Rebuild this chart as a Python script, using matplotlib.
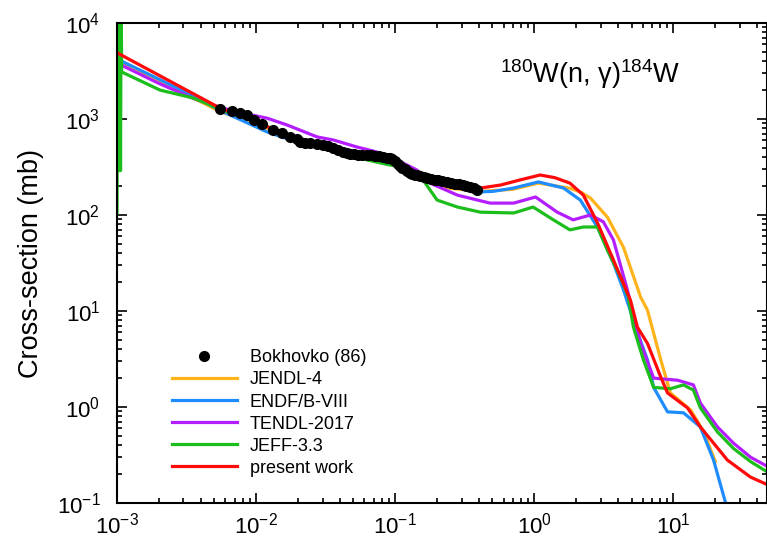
import numpy as np
import matplotlib
matplotlib.use('Agg')
import matplotlib.pyplot as plt
from matplotlib.ticker import LogLocator, NullFormatter, FixedFormatter

plt.rcParams['font.family'] = ['Liberation Sans', 'DejaVu Sans']
plt.rcParams['mathtext.fontset'] = 'custom'
plt.rcParams['mathtext.rm'] = 'Liberation Sans'
plt.rcParams['mathtext.it'] = 'Liberation Sans:italic'
plt.rcParams['mathtext.bf'] = 'Liberation Sans:bold'

# experimental data, Bokhovko (86)
exp_e = [0.00551, 0.00672, 0.00767, 0.00861, 0.00968, 0.0110, 0.0132, 0.0154, 0.0176, 0.0197,
         0.0208, 0.0225, 0.0245, 0.0275, 0.0303, 0.0330, 0.0358, 0.0389, 0.0423, 0.0452,
         0.0474, 0.0507, 0.0542, 0.0579, 0.0629, 0.0671, 0.0718, 0.0767, 0.0820, 0.0875,
         0.0921, 0.0951, 0.100, 0.105, 0.109, 0.112, 0.118, 0.122, 0.128, 0.133,
         0.139, 0.144, 0.151, 0.162, 0.170, 0.182, 0.194, 0.204, 0.218, 0.237,
         0.253, 0.270, 0.289, 0.308, 0.324, 0.347, 0.370, 0.389]
exp_xs = [1271, 1211, 1155, 1101, 977, 887, 768, 714, 649, 619,
          575, 569, 562, 549, 536, 518, 499, 476, 453, 442,
          432, 427, 422, 422, 422, 417, 412, 407, 402, 397,
          393, 383, 365, 340, 324, 312, 301, 287, 274, 267,
          261, 258, 255, 249, 243, 237, 232, 229, 226, 221,
          215, 210, 208, 205, 201, 196, 189, 182]

# JENDL-4
jendl_e = [0.001, 0.002, 0.0055, 0.01, 0.02, 0.05, 0.1, 0.15, 0.237, 0.41,
           0.7, 1.07, 1.8, 2.14, 2.53, 3.35, 4.37, 5.8, 6.5, 8.1,
           9.5, 13.3, 16.4, 20.0]
jendl_xs = [4000, 2500, 1200, 900, 570, 420, 370, 250, 191, 176,
            185, 215, 190, 174, 150, 95, 46, 14, 10.2, 3.1,
            1.4, 0.93, 0.56, 0.27]

# ENDF/B-VIII
endf_e = [0.001, 0.002, 0.0035, 0.0055, 0.012, 0.02, 0.05, 0.1, 0.15, 0.25,
          0.4, 0.5, 0.7, 1.07, 1.62, 2.14, 2.84, 3.7, 4.37, 5.5,
          6.5, 7.2, 9.06, 11.8, 15.6, 19.4, 23.7, 28.0]
endf_xs = [4220, 2600, 1750, 1230, 733, 570, 425, 370, 255, 210,
           174, 176, 190, 221, 191, 143, 75, 31.6, 16.6, 6.0,
           3.1, 1.6, 0.89, 0.87, 0.62, 0.28, 0.1, 0.05]

# TENDL-2017
tendl_e = [0.001, 0.002, 0.0035, 0.0055, 0.008, 0.012, 0.0167, 0.0275, 0.036, 0.053,
           0.074, 0.103, 0.143, 0.178, 0.28, 0.48, 0.71, 1.02, 1.46, 1.9,
           2.53, 3.13, 3.7, 4.66, 5.8, 7.2, 10.7, 13.9, 15.6, 20.7,
           27.0, 35.8, 47.4]
tendl_xs = [3830, 2350, 1650, 1320, 1150, 1020, 866, 650, 604, 511,
            453, 374, 294, 215, 161, 133, 133, 154, 107, 89,
            100, 85, 55, 16.6, 4.6, 2.0, 1.9, 1.7, 1.1, 0.62,
            0.42, 0.3, 0.24]

# JEFF-3.3 (resolved resonances near 1 keV)
jeff_e = [0.00100, 0.00101, 0.00102, 0.00103, 0.00104, 0.00105, 0.00106, 0.00107, 0.00108,
          0.00204, 0.0035, 0.0047, 0.0055, 0.01, 0.02, 0.04, 0.063, 0.092, 0.109,
          0.159, 0.2, 0.28, 0.41, 0.71, 0.98, 1.37, 1.8, 2.25, 2.84,
          3.35, 4.16, 4.74, 5.15, 6.08, 7.2, 9.5, 11.8, 13.9, 15.6,
          20.7, 27.0, 35.8, 47.4]
jeff_xs = [105, 20000, 290, 20000, 290, 20000, 290, 20000, 3090,
           2000, 1660, 1400, 1250, 950, 590, 450, 374, 331, 324,
           230, 143, 121, 107, 105, 121, 89, 70, 75, 75,
           43, 22.6, 14, 6.8, 3.1, 1.6, 1.55, 1.7, 1.5, 0.98,
           0.55, 0.37, 0.27, 0.21]

# present work
pw_e = [0.001, 0.0055, 0.01, 0.02, 0.05, 0.1, 0.15, 0.25, 0.41, 0.57,
        0.79, 1.1, 1.4, 1.8, 2.25, 2.84, 3.7, 4.9, 5.5, 6.5, 8.1,
        9.06, 12.6, 15.6, 24.4, 35.8, 47.4]
pw_xs = [4900, 1300, 950, 580, 425, 370, 255, 210, 191, 205,
         232, 261, 245, 215, 161, 83, 34, 13, 6.8, 4.6, 2.05,
         1.4, 0.98, 0.62, 0.28, 0.186, 0.155]

x_ticks = [1e-3, 1e-2, 1e-1, 1e0, 1e1]
x_tick_labels = ['$10^{-3}$', '$10^{-2}$', '$10^{-1}$', '$10^{0}$', '$10^{1}$']
y_ticks = [1e-1, 1e0, 1e1, 1e2, 1e3, 1e4]
y_tick_labels = ['$10^{-1}$', '$10^{0}$', '$10^{1}$', '$10^{2}$', '$10^{3}$', '$10^{4}$']

fig = plt.figure(figsize=(7.67, 5.42), dpi=100)
ax = fig.add_axes([117 / 767, 39 / 542, 650 / 767, 480 / 542])

lw = 2.3
ax.plot(jendl_e, jendl_xs, color='#FFB31A', lw=lw, label='JENDL-4')
ax.plot(endf_e, endf_xs, color='#1E8CFF', lw=lw, label='ENDF/B-VIII')
ax.plot(tendl_e, tendl_xs, color='#B41EFF', lw=lw, label='TENDL-2017')
ax.plot(jeff_e, jeff_xs, color='#1CBE1C', lw=lw, label='JEFF-3.3')
ax.plot(pw_e, pw_xs, color='#FF0A0A', lw=lw, label='present work')
ax.plot(exp_e, exp_xs, 'o', color='black', ms=7, zorder=5, label='Bokhovko (86)')

ax.set_xscale('log')
ax.set_yscale('log')
ax.set_xlim(1e-3, 47)
ax.set_ylim(1e-1, 1e4)

ax.xaxis.set_major_locator(plt.FixedLocator(x_ticks))
ax.xaxis.set_major_formatter(FixedFormatter(x_tick_labels))
ax.yaxis.set_major_locator(plt.FixedLocator(y_ticks))
ax.yaxis.set_major_formatter(FixedFormatter(y_tick_labels))
ax.xaxis.set_minor_locator(LogLocator(base=10, subs=np.arange(2, 10), numticks=20))
ax.yaxis.set_minor_locator(LogLocator(base=10, subs=np.arange(2, 10), numticks=20))
ax.xaxis.set_minor_formatter(NullFormatter())
ax.yaxis.set_minor_formatter(NullFormatter())

ax.tick_params(which='both', direction='in', top=True, right=True, width=1.2)
ax.tick_params(which='major', length=7, labelsize=16)
ax.tick_params(which='minor', length=3.5)
ax.tick_params(axis='x', which='major', pad=7)
ax.tick_params(axis='y', which='major', pad=12)
for s in ax.spines.values():
    s.set_linewidth(1.5)

ax.set_ylabel('Cross-section (mb)', fontsize=19.5, labelpad=9)

ax.text(0.728, 0.875, '$^{180}$W(n, γ)$^{184}$W', transform=ax.transAxes,
        fontsize=19.5, ha='center', va='baseline')

handles, labels = ax.get_legend_handles_labels()
order = [5, 0, 1, 2, 3, 4]
ax.legend([handles[i] for i in order], [labels[i] for i in order],
          loc='upper left', bbox_to_anchor=(0.0846, 0.32), frameon=False,
          fontsize=13, handlelength=3.6, handletextpad=0.7, labelspacing=0.28,
          borderpad=0, borderaxespad=0)

fig.savefig('out.png', dpi=100)
